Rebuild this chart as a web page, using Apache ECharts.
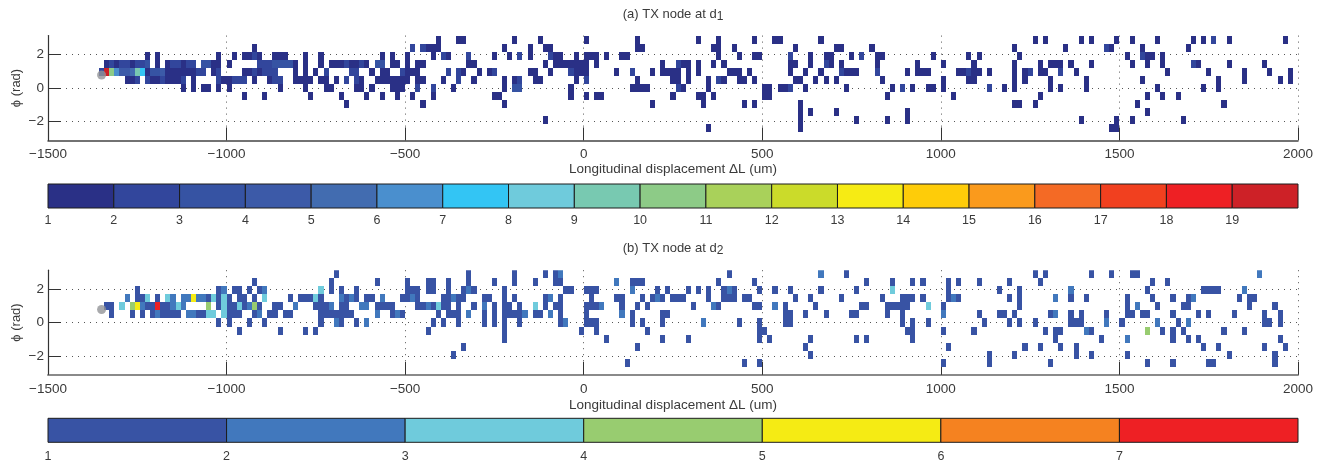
<!DOCTYPE html>
<html><head><meta charset="utf-8">
<script src="https://cdn.jsdelivr.net/npm/echarts@6/dist/echarts.min.js"></script>
<style>html,body{margin:0;padding:0;background:#fff}#c{width:1323px;height:463px}</style>
</head><body><div id="c"></div>
<script>
// Histogram rows, top (row 0) to bottom (row 12). Entry: bin index (count 1) or [bin index, count].
const aR0=[76,80,81,91,96,105,115,127,131,138,142,143,151,193,195,202,204,209,212,217,224,226,[228,2],231,242];
const aR1=[40,[71,2],[73,2],74,75,76,89,94,97,98,115,116,130,131,134,146,154,155,161,189,199,[207,2],208,214,223];
const aR2=[19,21,33,36,38,39,[40,2],41,44,45,46,50,53,65,67,70,75,[77,2],78,[82,2],87,90,[92,2],94,[98,2],99,100,103,105,106,107,109,112,113,131,135,138,139,[145,2],149,152,153,157,[159,2],162,163,173,180,182,190,211,[214,2],215,216,218];
const aR3=[11,[12,2],13,[14,2],[15,2],16,[17,2],[18,2],[19,3],21,23,[24,2],[25,2],26,[27,2],[28,2],[30,3],[31,3],32,33,35,[41,2],[42,2],[43,2],[44,3],[45,3],[46,3],[47,3],48,50,53,55,56,57,[58,2],59,60,[61,2],62,[64,3],[65,3],67,68,70,72,73,82,83,97,99,100,101,102,103,104,105,107,120,[123,2],124,125,127,130,132,145,146,149,[152,2],153,155,162,170,175,181,189,194,196,197,198,200,204,212,215,218,[224,2],225,231,238];
const aR4=[[10,2],[11,19],[12,10],[13,6],[14,4],[15,4],[16,5],[17,9],[18,7],19,[20,3],[21,3],[22,4],23,24,25,26,27,28,[29,2],[30,2],32,[33,2],38,39,[40,2],41,[42,2],[43,2],[44,2],48,50,52,[54,2],[59,2],[60,2],63,65,66,[69,2],70,71,72,[78,2],[80,2],81,84,86,[87,2],94,95,98,[102,2],103,104,105,111,[114,2],118,120,121,122,123,125,127,133,134,135,137,145,148,151,[155,2],156,157,158,[162,2],168,170,171,172,178,179,[180,2],181,182,184,189,191,[192,2],194,195,[198,2],201,219,227,234,239,243];
const aR5=[15,16,[17,2],[19,2],20,21,[22,2],23,24,25,[26,2],28,[33,2],34,35,[36,2],[37,2],[38,2],40,43,[44,2],[45,2],48,49,50,51,53,54,56,[58,2],[60,2],61,64,65,66,67,68,69,70,72,73,77,[80,2],83,89,91,[92,2],95,96,103,[105,2],115,122,123,125,129,[131,2],132,135,136,138,146,147,150,152,154,163,175,180,181,189,191,196,203,214,229,234,241,243];
const aR6=[26,28,30,31,33,35,45,50,54,55,60,61,63,67,68,69,[72,2],[75,2],79,89,[91,3],[92,3],102,114,115,116,117,[123,2],124,129,140,141,143,144,[145,2],148,156,165,[167,2],169,172,173,175,[184,2],187,189,196,198,203,217,226,229];
const aR7=[38,42,51,57,62,65,68,71,75,87,88,102,105,107,108,122,127,128,130,140,141,164,177,194,215,218,221];
const aR8=[58,73,89,118,128,136,138,147,189,190,193,213,230];
const aR9=[147,149,154,168,215];
const aR10=[97,147,158,164,168,202,209,212,222];
const aR11=[129,147,208,209];
const aR12=[];

const bR0=[56,82,91,97,99,[100,2],133,[151,2],156,193,195,204,208,212,213,[237,2]];
const bR1=[40,55,64,70,74,75,78,82,87,91,95,99,100,[111,2],114,115,116,131,138,160,165,169,171,176,178,182,188,194,216,219];
const bR2=[17,33,[34,2],36,37,39,41,[42,2],[53,3],55,57,60,70,71,72,74,75,78,81,[82,2],83,89,101,102,105,106,107,[114,2],119,121,125,127,129,132,[133,2],134,139,142,145,151,158,[165,3],176,186,190,[200,2],215,226,227,228,229,[234,2]];
const bR3=[[15,2],17,18,[19,3],21,[23,3],[24,2],[26,2],[27,2],[28,5],[29,2],[30,2],31,[32,3],33,[34,3],35,37,38,40,[42,3],47,49,50,51,[52,3],53,[57,2],58,[59,2],60,62,63,[65,2],69,70,[71,2],72,77,78,[79,2],80,81,85,86,89,91,97,[98,2],100,106,111,112,116,118,[119,2],120,122,123,124,129,132,133,134,136,137,146,149,155,163,167,168,169,171,176,[177,2],178,188,190,[197,2],200,203,211,216,220,223,[224,2],233,235,236];
const bR4=[11,12,[14,3],[16,4],[17,5],[18,2],19,20,[21,7],22,23,[24,2],[25,3],[26,2],[31,4],33,[34,3],35,36,[37,3],38,[39,2],[40,4],41,44,45,[48,2],52,53,54,[55,2],57,58,[61,2],[62,2],64,65,66,67,72,73,[74,2],75,[76,3],77,78,80,83,[85,2],87,89,90,92,[95,3],97,99,100,105,106,107,[108,2],112,115,117,126,[130,2],131,138,139,[142,2],144,150,159,160,164,165,166,167,168,[172,3],175,190,211,[213,2],217,222,223,235,240];
const bR5=[12,16,18,20,[21,2],22,23,24,25,[27,2],[28,2],29,30,[31,3],[32,3],[34,3],35,36,37,40,[41,2],43,44,46,47,53,54,55,56,57,58,59,[64,2],67,[68,2],69,76,78,79,80,[82,2],85,87,89,90,91,92,[93,2],95,96,[98,2],100,105,[112,2],114,120,121,144,145,148,152,157,158,164,167,[175,2],182,186,187,189,196,[197,2],200,202,207,211,212,214,215,220,225,227,232,238,241];
const bR6=[33,35,39,42,53,[56,2],57,60,[62,2],75,77,80,85,87,89,92,100,[101,2],105,106,107,114,116,120,[128,2],135,139,144,145,167,169,172,183,188,190,193,200,201,202,[207,2],210,[217,2],221,[223,2],238,239,241];
const bR7=[37,45,50,52,74,89,104,107,117,139,140,168,169,175,181,195,197,198,[203,2],204,[215,4],218,220,222,230,234];
const bR8=[89,109,120,125,139,141,149,158,160,169,197,206,[211,2],220,223,225,241];
const bR9=[81,115,148,176,191,194,198,201,226,229,238,242];
const bR10=[79,149,184,189,201,204,211,231,240];
const bR11=[113,136,139,175,184,196,215,220,227,228,240];
const bR12=[];

const yTicks=[-2,0,2];
const txPoint=[-1350,0.78];
const levelsA=[1,2,3,4,5,6,7,8,9,10,11,12,13,14,15,16,17,18,19];
const levelsB=[1,2,3,4,5,6,7];
const paletteA=['#2a3086','#32469c','#3653a3','#3c5aa8','#426cb0','#4a8fce','#33c5f4','#6fcbdc','#78c9b1','#8dcb87','#a9d15a','#cbdb2a','#f6eb14','#fecc09','#fa9a1c','#f46a25','#f1401f','#ee2024','#cd2127'];
const paletteB=['#3853a4','#4178bd','#6fcbdc','#98cc70','#f5eb14','#f58220','#ee2024'];

const xMin=-1500,xMax=2000,nBins=245,nRows=13,PI=Math.PI;
const binW=(xMax-xMin)/nBins,rowH=2*PI/nRows;
function cells(rows){
  const out=[];
  rows.forEach((r,i)=>r.forEach(e=>{
    const col=Array.isArray(e)?e[0]:e, v=Array.isArray(e)?e[1]:1;
    out.push([xMin+col*binW, PI-i*rowH, v]);
  }));
  return out;
}
function cellRender(palette){
  return function(params,api){
    const x=api.value(0), y=api.value(1);
    const a=api.coord([x,y]), b=api.coord([x+binW,y-rowH]);
    const x0=Math.round(a[0]), x1=Math.round(b[0]), y0=Math.round(a[1]), y1=Math.round(b[1]);
    return {type:'rect',shape:{x:x0,y:y0,width:x1-x0,height:y1-y0},
      style:{fill:palette[api.value(2)-1]}};
  };
}
function barRender(palette){
  return function(params,api){
    const v=api.value(0);
    const a=api.coord([v,1]), b=api.coord([v+1,0]);
    return {type:'rect',shape:{x:a[0],y:a[1],width:b[0]-a[0],height:b[1]-a[1]},
      style:{fill:palette[v-1],stroke:'#1c1c1c',lineWidth:1}};
  };
}
const font='"Liberation Sans",Arial,sans-serif', ink='#3a3a3a';
const G=[
 {left:48,width:1250,top:35.6,height:104.8,outerBoundsMode:'none'},
 {left:48,width:1250,top:184,height:24,outerBoundsMode:'none'},
 {left:48,width:1250,top:270.2,height:104.6,outerBoundsMode:'none'},
 {left:48,width:1250,top:418.3,height:24,outerBoundsMode:'none'}
];
function panelX(gi,lineColor,lineW,gap){
  return {gridIndex:gi,type:'value',min:xMin,max:xMax,interval:500,
    name:'Longitudinal displacement \u0394L (um)',nameLocation:'middle',nameGap:gap,nameMoveOverlap:false,
    nameTextStyle:{fontFamily:font,fontSize:13.5,color:ink},
    axisLine:{show:true,onZero:false,lineStyle:{color:lineColor,width:lineW}},
    axisTick:{show:true,inside:true,length:13,lineStyle:{color:'#333',width:1}},
    axisLabel:{fontFamily:font,fontSize:13.5,color:ink,margin:7,showMinLabel:true,showMaxLabel:true,
      formatter:v=>String(v).replace('-','\u2212')},
    splitLine:{show:true,lineStyle:{color:'#555',width:1,type:[1,5]}}};
}
function panelY(gi){
  return {gridIndex:gi,type:'value',min:-PI,max:PI,
    name:'\u03d5 (rad)',nameLocation:'middle',nameGap:25,nameRotate:90,nameMoveOverlap:false,
    nameTextStyle:{fontFamily:font,fontSize:13,color:ink},
    axisLine:{show:true,onZero:false,lineStyle:{color:'#333',width:1.2}},
    axisTick:{show:true,inside:true,length:13,customValues:yTicks,lineStyle:{color:'#333',width:1}},
    axisLabel:{fontFamily:font,fontSize:13.5,color:ink,margin:4,customValues:yTicks,
      formatter:v=>String(v).replace('-','\u2212')},
    splitLine:{show:true,lineStyle:{color:'#555',width:1,type:[1,5]}}};
}
function barX(gi,n,margin){
  return {gridIndex:gi,type:'value',min:1,max:n+1,interval:1,
    axisLine:{show:false},axisTick:{show:false},splitLine:{show:false},
    axisLabel:{fontFamily:'"Liberation Sans Narrow","Liberation Sans",sans-serif',fontSize:12.5,color:ink,margin:margin,showMinLabel:true,showMaxLabel:false,
      formatter:v=>v>n?'':String(v)}};
}
function barY(gi){return {gridIndex:gi,type:'value',min:0,max:1,show:false};}
function titleAt(text,top){
  return {text:text,left:673,top:top,textAlign:'center',padding:0,
    textStyle:{fontFamily:font,fontSize:13,fontWeight:'normal',color:ink,
      rich:{s:{fontFamily:font,fontSize:12,color:ink,padding:[6,0,0,0]}}}};
}
const option={
  animation:false,backgroundColor:'#fff',
  title:[titleAt('(a) TX node at d{s|1}',5),titleAt('(b) TX node at d{s|2}',239)],
  grid:G,
  xAxis:[panelX(0,'#444',1.5,22),barX(1,19,6),panelX(2,'#8a8a8a',2,23),barX(3,7,8)],
  yAxis:[panelY(0),barY(1),panelY(2),barY(3)],
  series:[
   {type:'custom',xAxisIndex:0,yAxisIndex:0,renderItem:cellRender(paletteA),clip:true,z:3,
    encode:{x:0,y:1},data:cells([aR0,aR1,aR2,aR3,aR4,aR5,aR6,aR7,aR8,aR9,aR10,aR11,aR12])},
   {type:'custom',xAxisIndex:2,yAxisIndex:2,renderItem:cellRender(paletteB),clip:true,z:3,
    encode:{x:0,y:1},data:cells([bR0,bR1,bR2,bR3,bR4,bR5,bR6,bR7,bR8,bR9,bR10,bR11,bR12])},
   {type:'scatter',xAxisIndex:0,yAxisIndex:0,symbolSize:9,z:5,itemStyle:{color:'#929497'},data:[txPoint]},
   {type:'scatter',xAxisIndex:2,yAxisIndex:2,symbolSize:9,z:5,itemStyle:{color:'#929497'},data:[txPoint]},
   {type:'custom',xAxisIndex:1,yAxisIndex:1,renderItem:barRender(paletteA),encode:{x:0},data:levelsA.map(v=>[v])},
   {type:'custom',xAxisIndex:3,yAxisIndex:3,renderItem:barRender(paletteB),encode:{x:0},data:levelsB.map(v=>[v])}
  ]
};
const chart=echarts.init(document.getElementById('c'),null,{renderer:'canvas'});
chart.setOption(option);
</script></body></html>
